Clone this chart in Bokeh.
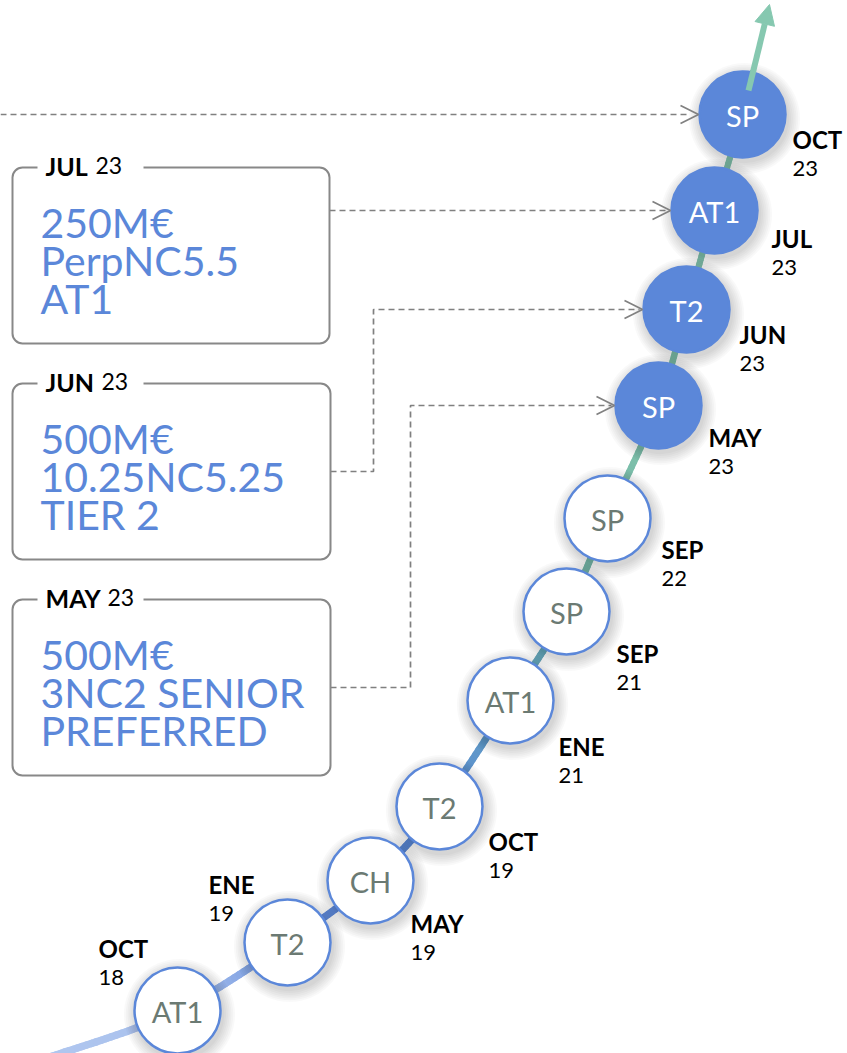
from bokeh.plotting import figure
from bokeh.models import Range1d, Arrow, OpenHead, NormalHead
from bokeh.core.properties import value
from bokeh.embed import file_html
from bokeh.resources import INLINE

# ---------------- data ----------------
months = ["OCT", "ENE", "MAY", "OCT", "ENE", "SEP", "SEP", "MAY", "JUN", "JUL", "OCT"]
years = ["18", "19", "19", "19", "21", "21", "22", "23", "23", "23", "23"]
kinds = ["AT1", "T2", "CH", "T2", "AT1", "SP", "SP", "SP", "T2", "AT1", "SP"]
recent = [False] * 7 + [True] * 4

deal_months = ["JUL", "JUN", "MAY"]
deal_years = ["23", "23", "23"]
deal_line1 = ["250M€", "500M€", "500M€"]
deal_line2 = ["PerpNC5.5", "10.25NC5.25", "3NC2 SENIOR"]
deal_line3 = ["AT1", "TIER 2", "PREFERRED"]
deal_target = [9, 8, 7]

# ---------------- layout (pixels) ----------------
node_x = [177, 287, 370, 439, 510, 566, 607, 658, 686, 714, 742]
node_y = [1010, 942, 880, 806, 700, 611, 518, 405, 309, 210, 114]
label_dx = [-79, -79, 40, 49, 48, 50, 54, 50, 53, 57, 50]
label_dy = [-62, -58, 43, 35, 46, 42, 31, 32, 25, 28, 25]
R = 43
box_top = [167, 383, 599]
box_h = 176
box_left = 12
box_right = [329, 330, 330]
elbow_x = [None, 373, 410]

BLUE = "#5b87d9"
GRAY = "#808080"
FONT = "Lato"
W, H = 847, 1053

p = figure(width=W, height=H, output_backend="svg", toolbar_location=None,
           x_range=Range1d(0, W), y_range=Range1d(H, 0), min_border=0)
p.axis.visible = False
p.grid.visible = False
p.outline_line_color = None
p.background_fill_color = "white"
p.border_fill_color = "white"

# ---------------- gradient path ----------------
def catmull(pts, n=24):
    out = []
    P = [pts[0]] + pts + [pts[-1]]
    for i in range(1, len(P) - 2):
        p0, p1, p2, p3 = P[i - 1], P[i], P[i + 1], P[i + 2]
        for k in range(n):
            t = k / n
            t2, t3 = t * t, t * t * t
            x = 0.5 * ((2 * p1[0]) + (-p0[0] + p2[0]) * t + (2 * p0[0] - 5 * p1[0] + 4 * p2[0] - p3[0]) * t2 + (-p0[0] + 3 * p1[0] - 3 * p2[0] + p3[0]) * t3)
            y = 0.5 * ((2 * p1[1]) + (-p0[1] + p2[1]) * t + (2 * p0[1] - 5 * p1[1] + 4 * p2[1] - p3[1]) * t2 + (-p0[1] + 3 * p1[1] - 3 * p2[1] + p3[1]) * t3)
            out.append((x, y))
    out.append(pts[-1])
    return out

stops = [(1070, (179, 201, 240)), (1000, (165, 190, 236)), (945, (110, 148, 222)),
         (890, (91, 135, 217)), (810, (92, 140, 214)), (740, (95, 152, 200)),
         (650, (104, 168, 188)), (560, (120, 186, 170)), (450, (124, 191, 170)),
         (0, (134, 200, 176))]

def col_at(y):
    for (y0, c0), (y1, c1) in zip(stops[:-1], stops[1:]):
        if y1 <= y <= y0:
            f = (y0 - y) / (y0 - y1)
            c = [round(a + (b - a) * f) for a, b in zip(c0, c1)]
            return "#%02x%02x%02x" % tuple(c)
    return "#86c8b0"

ctrl = [(-10, 1072), (60, 1053)] + list(zip(node_x, node_y)) + [(752, 72)]
pts = catmull(ctrl)
xs, ys, cs, ws = [], [], [], []
for a, b in zip(pts[:-1], pts[1:]):
    xs.append([a[0], b[0]])
    ys.append([a[1], b[1]])
    ym = (a[1] + b[1]) / 2
    cs.append(col_at(ym))
    ws.append(6 + (ym - 100) / 950 * 1.5)
p.multi_line(xs, ys, line_color=cs, line_width=ws, line_cap="round")

# top arrow
p.add_layout(Arrow(x_start=748, y_start=90, x_end=769, y_end=4, line_color="#86c8b0", line_width=6,
                   end=NormalHead(size=20, fill_color="#86c8b0", line_color="#86c8b0")))

# ---------------- connectors ----------------
dash = "6 4"
p.line([0, 690], [node_y[10], node_y[10]], line_color=GRAY, line_width=1.7, line_dash=dash)
p.add_layout(Arrow(x_start=680, y_start=node_y[10], x_end=node_x[10] - R - 1, y_end=node_y[10],
                   line_alpha=0, end=OpenHead(size=18, line_color=GRAY, line_width=1.7)))
for i in range(3):
    t = deal_target[i]
    tx, ty = node_x[t] - R - 1, node_y[t]
    yc = box_top[i] + box_h / 2
    if elbow_x[i] is None:
        lx, ly = [box_right[i], tx - 3], [ty, ty]
    else:
        ex = elbow_x[i]
        lx, ly = [box_right[i], ex, ex, tx - 3], [yc, yc, ty, ty]
    p.line(lx, ly, line_color=GRAY, line_width=1.7, line_dash=dash)
    p.add_layout(Arrow(x_start=tx - 10, y_start=ty, x_end=tx, y_end=ty,
                       line_alpha=0, end=OpenHead(size=18, line_color=GRAY, line_width=1.7)))

# ---------------- boxes ----------------
p.quad(left=[box_left] * 3, right=box_right, top=box_top, bottom=[t + box_h for t in box_top],
       fill_color="white", line_color="#888888", line_width=2, border_radius=10)
p.quad(left=[37] * 3, right=[143] * 3, top=[t - 6 for t in box_top], bottom=[t + 6 for t in box_top],
       fill_color="white", line_alpha=0)

bw = {'J': 0.46, 'U': 0.74, 'L': 0.52, 'N': 0.76, 'M': 0.88, 'A': 0.68, 'Y': 0.64}
TS = 25
title_x = [45] * 3
year_x = [45 + sum(bw[c] for c in m) * TS + 7 for m in deal_months]
ty_ = [t - 2 for t in box_top]
p.text(title_x, ty_, text=deal_months, text_font=value(FONT), text_font_style="bold",
       text_font_size=f"{TS}px", text_color="black", text_baseline="middle")
p.text(year_x, ty_, text=deal_years, text_font=value(FONT), text_font_size="23px",
       text_color="black", text_baseline="middle")
for k, lines in enumerate([deal_line1, deal_line2, deal_line3]):
    p.text([40] * 3, [t + 55 + 38 * k for t in box_top], text=lines, text_font=value(FONT),
           text_font_size="41px", text_color=BLUE, text_baseline="middle")

# ---------------- nodes ----------------
for k in range(1, 8):
    p.circle([x + 2 for x in node_x], [y + 4 for y in node_y], radius=R + 1.8 * k,
             fill_color="black", fill_alpha=0.022, line_alpha=0)
p.circle(node_x, node_y, radius=R, fill_color=[BLUE if r else "white" for r in recent],
         line_color=BLUE, line_width=2.5)
p.text(node_x, [y + 1 for y in node_y], text=kinds, text_align="center", text_baseline="middle",
       text_font=value(FONT), text_font_size="29px",
       text_color=["white" if r else "#6b7a73" for r in recent])

mx = [x + d for x, d in zip(node_x, label_dx)]
my = [y + d for y, d in zip(node_y, label_dy)]
p.text(mx, my, text=months, text_font=value(FONT), text_font_style="bold", text_font_size="24px",
       text_color="black", text_baseline="middle")
p.text(mx, [y + 29 for y in my], text=years, text_font=value(FONT), text_font_size="22px",
       text_color="black", text_baseline="middle")

open("out.html", "w").write(file_html(p, INLINE))
